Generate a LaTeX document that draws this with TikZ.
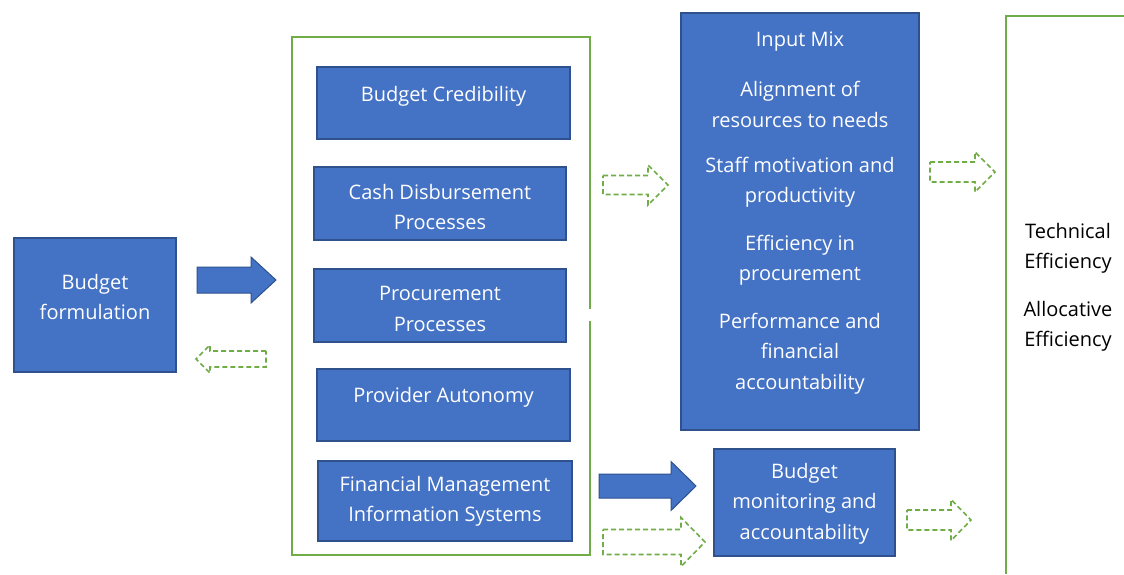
\documentclass[tikz,border=0pt]{standalone}
\usepackage{fontspec}
\setmainfont{Open Sans}
\definecolor{bfill}{HTML}{4472C4}
\definecolor{bdraw}{HTML}{2F528F}
\definecolor{gline}{HTML}{70AD47}
\newcommand{\myblockarrow}[7]{% style, x1, x2, yc, shafthalf, headhalf, headlen
  \draw[#1] (#2,#4-#5) -- (#3-#7,#4-#5) -- (#3-#7,#4-#6) -- (#3,#4) -- (#3-#7,#4+#6) -- (#3-#7,#4+#5) -- (#2,#4+#5) -- cycle;}
\newcommand{\myleftarrow}[7]{% style, xtip, x2, yc, shafthalf, headhalf, headlen
  \draw[#1] (#3,#4-#5) -- (#2+#7,#4-#5) -- (#2+#7,#4-#6) -- (#2,#4) -- (#2+#7,#4+#6) -- (#2+#7,#4+#5) -- (#3,#4+#5) -- cycle;}
\begin{document}
\begin{tikzpicture}[x=1pt,y=-1pt,
  bbox/.style={draw=bdraw,line width=1.2pt,fill=bfill,inner sep=0pt},
  solidarrow/.style={draw=bdraw,line width=1pt,fill=bfill},
  dasharrow/.style={draw=gline,line width=1.6pt,dash pattern=on 5pt off 3pt,fill=white},
  gbox/.style={draw=gline,line width=1.6pt},
  plain/.style={align=center,inner sep=0pt,font=\fontsize{20}{30.5}\selectfont},
  wtext/.style={plain,text=white}]
\useasboundingbox (0,0) rectangle (1124,574);
\fill[white] (0,0) rectangle (1124,574);
% green frames
\draw[gbox] (590,309) -- (590,555) -- (292,555) -- (292,37) -- (590,37) -- (590,309);
\fill[white] (586,309) rectangle (594,321);
\draw[gbox] (1124,16) -- (1006,16) -- (1006,574);
% boxes
\node[bbox,minimum width=162pt,minimum height=134pt] (bf) at (95,305) {};
\node[bbox,minimum width=253pt,minimum height=72pt] (bc) at (443.5,103) {};
\node[bbox,minimum width=252pt,minimum height=73pt] (cd) at (440,203.5) {};
\node[bbox,minimum width=252pt,minimum height=73pt] (pp) at (440,305.5) {};
\node[bbox,minimum width=253pt,minimum height=72pt] (pa) at (443.5,405) {};
\node[bbox,minimum width=254pt,minimum height=80pt] (fm) at (445,501) {};
\node[bbox,minimum width=238pt,minimum height=417pt] (im) at (800,221.5) {};
\node[bbox,minimum width=181pt,minimum height=107pt] (bm) at (804.5,502.5) {};
% texts
\node[wtext] (bft) at (95,297) {Budget\\formulation};
\node[wtext] (bct) at (443.5,96) {Budget Credibility};
\node[wtext] (cdt) at (440,207) {Cash Disbursement\\Processes};
\node[wtext] (ppt) at (440,309) {Procurement\\Processes};
\node[wtext] (pat) at (443.5,397) {Provider Autonomy};
\node[wtext] (fmt) at (445,501.5) {Financial Management\\Information Systems};
\node[wtext] (bmt) at (804.5,503.5) {Budget\\monitoring and\\accountability};
\node[wtext] (t1) at (800,42) {Input Mix};
\node[wtext] (t2) at (800,104.5) {Alignment of\\resources to needs};
\node[wtext] (t3) at (800,182) {Staff motivation and\\productivity};
\node[wtext] (t4) at (800,260) {Efficiency in\\procurement};
\node[wtext] (t5) at (800,353.5) {Performance and\\financial\\accountability};
\begin{scope}
\clip (1008,0) rectangle (1124,574);
\node[plain,text=black] (te) at (1068,248.5) {Technical\\Efficiency};
\node[plain,text=black] (ae) at (1068,326.5) {Allocative\\Efficiency};
\end{scope}
% arrows
\myblockarrow{solidarrow}{197}{276}{280}{13}{23}{25}
\myleftarrow{dasharrow}{196}{266}{359}{8}{14}{14}
\myblockarrow{dasharrow}{603}{668}{185}{9.5}{20}{20}
\myblockarrow{solidarrow}{599}{696}{486}{12}{24.5}{25}
\myblockarrow{dasharrow}{603}{705}{542}{12.5}{24.5}{24}
\myblockarrow{dasharrow}{930}{995}{172}{10}{20}{20}
\myblockarrow{dasharrow}{907}{971}{520}{10}{20.5}{20}
\end{tikzpicture}
\end{document}
